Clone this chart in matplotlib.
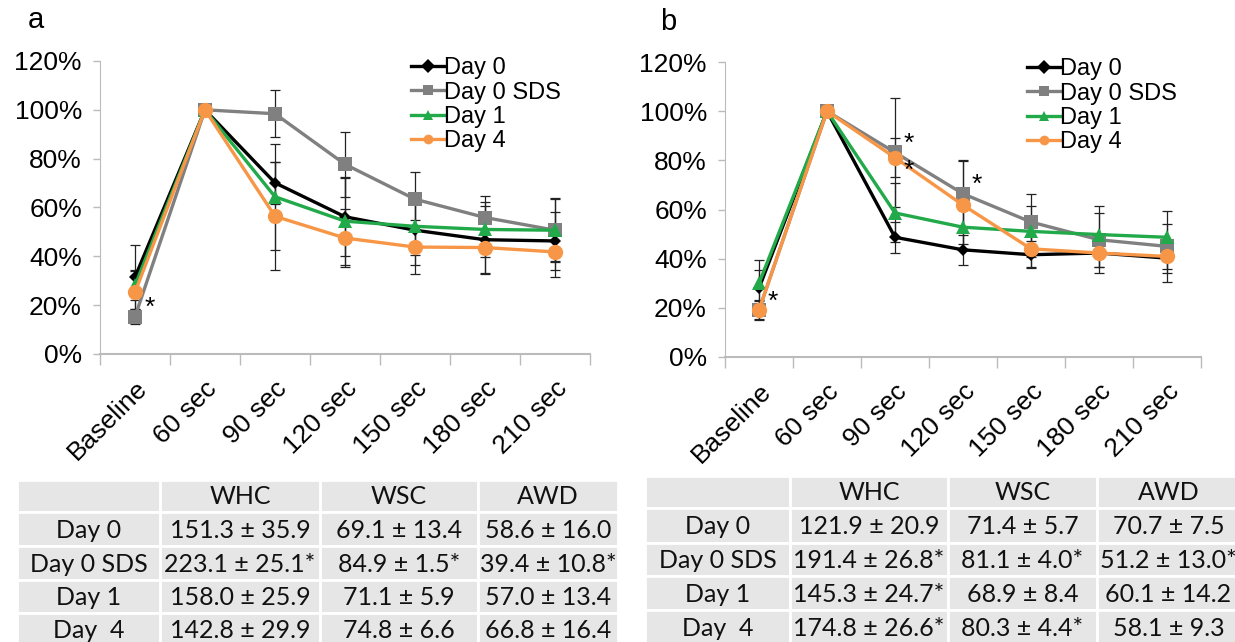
import numpy as np
import matplotlib.pyplot as plt
from matplotlib.patches import Rectangle

# time points of the measurement
times = ['Baseline', '60 sec', '90 sec', '120 sec', '150 sec', '180 sec', '210 sec']
groups = ['Day 0', 'Day 0 SDS', 'Day 1', 'Day 4']

# panel a: relative values (%) and standard deviations
a_day0 = [31.5, 100, 70.1, 56.2, 50.7, 46.8, 46.3]
a_sds = [15.3, 100, 98.4, 77.7, 63.4, 55.9, 50.7]
a_day1 = [28.1, 100, 64.4, 54.4, 52.3, 51.0, 50.7]
a_day4 = [25.3, 100, 56.4, 47.5, 43.8, 43.6, 41.8]
a_day0_sd = [13.0, 0, 8.7, 16.0, 14.4, 14.0, 12.0]
a_sds_sd = [3.0, 0, 9.6, 13.4, 11.3, 8.8, 12.7]
a_day1_sd = [6.0, 0, 21.7, 18.0, 11.9, 11.3, 13.0]
a_day4_sd = [9.0, 0, 22.2, 11.9, 10.9, 10.5, 10.3]

# panel b
b_day0 = [28.0, 100, 48.7, 43.6, 41.6, 42.3, 40.2]
b_sds = [19.1, 100, 83.2, 66.4, 54.9, 47.7, 45.0]
b_day1 = [30.0, 100, 58.6, 52.8, 51.1, 49.8, 48.7]
b_day4 = [19.1, 100, 81.1, 61.8, 44.0, 42.3, 40.9]
b_day0_sd = [7.5, 0, 6.4, 6.0, 5.5, 5.8, 6.2]
b_sds_sd = [3.5, 0, 22.0, 13.6, 11.6, 13.7, 14.3]
b_day1_sd = [9.5, 0, 12.0, 7.0, 10.3, 8.7, 5.4]
b_day4_sd = [4.0, 0, 8.0, 18.0, 7.5, 5.5, 5.0]

# significance marks: (point index, group index)
a_stars = [(0, 1)]
b_stars = [(0, 1), (2, 1), (2, 3), (3, 1)]

# summary tables
tab_cols = ['WHC', 'WSC', 'AWD']
tab_rows = ['Day 0', 'Day 0 SDS', 'Day 1', 'Day  4']
a_table = [['151.3 ± 35.9', '69.1 ± 13.4', '58.6 ± 16.0'],
           ['223.1 ± 25.1*', '84.9 ± 1.5*', '39.4 ± 10.8*'],
           ['158.0 ± 25.9', '71.1 ± 5.9', '57.0 ± 13.4'],
           ['142.8 ± 29.9', '74.8 ± 6.6', '66.8 ± 16.4']]
b_table = [['121.9 ± 20.9', '71.4 ± 5.7', '70.7 ± 7.5'],
           ['191.4 ± 26.8*', '81.1 ± 4.0*', '51.2 ± 13.0*'],
           ['145.3 ± 24.7*', '68.9 ± 8.4', '60.1 ± 14.2'],
           ['174.8 ± 26.6*', '80.3 ± 4.4*', '58.1 ± 9.3']]

colors = ['#000000', '#808080', '#21a94a', '#f79646']
markers = ['D', 's', '^', 'o']
msizes = [6, 10, 10, 11]
star_dy = [0, 3.5, 0, -5.5]   # nudges the asterisks of overlapping groups apart

plt.rcParams['font.family'] = ['Liberation Sans', 'DejaVu Sans']

fig = plt.figure(figsize=(12.35, 6.42), dpi=100)
W, H = 1235, 642


def draw_panel(rect, series, errs, stars, letter, letter_xy, leg_x):
    ax = fig.add_axes(rect)
    x = np.arange(len(times))
    for k in range(len(groups)):
        ax.errorbar(x, series[k], yerr=errs[k], fmt='none', ecolor='#222222',
                    elinewidth=0.9, capsize=3.5, capthick=0.9, zorder=2)
    handles = []
    for k in range(len(groups)):
        h, = ax.plot(x, series[k], color=colors[k], lw=2.4, marker=markers[k],
                     ms=msizes[k], markeredgewidth=0, label=groups[k], zorder=3 + k)
        handles.append(h)
    for i, k in stars:
        ax.text(i + 0.13, series[k][i] + star_dy[k], '*', fontsize=19,
                ha='left', va='center', zorder=10)
    ax.set_xlim(-0.5, len(times) - 0.5)
    ax.set_ylim(0, 120)
    ax.set_yticks(np.arange(0, 121, 20))
    ax.set_yticklabels([f'{v}%' for v in range(0, 121, 20)], fontsize=19)
    ax.set_xticks(x)
    ax.set_xticklabels(times, rotation=45, ha='right', rotation_mode='anchor', fontsize=19)
    ax.tick_params(axis='x', length=0, pad=16)
    ax.set_xticks(np.arange(-0.5, len(times)), minor=True)
    ax.tick_params(axis='x', which='minor', length=8, color='#bbbbbb', width=1)
    ax.tick_params(axis='y', length=5, color='#bbbbbb', width=1, pad=8)
    for s in ['top', 'right']:
        ax.spines[s].set_visible(False)
    ax.spines['left'].set_color('#bbbbbb')
    ax.spines['bottom'].set_color('#bbbbbb')
    ax.spines['bottom'].set_linewidth(1.5)
    leg = ax.legend(handles=handles, loc='upper right', bbox_to_anchor=(leg_x, 1.045),
                    frameon=False, fontsize=17, handlelength=1.4, handletextpad=0.0,
                    labelspacing=0.1, borderaxespad=0)
    for lh in leg.legend_handles:
        lh.set_markersize(7)
    fig.text(letter_xy[0] / W, 1 - letter_xy[1] / H, letter, fontsize=21,
             ha='left', va='center')
    return ax


draw_panel([100 / W, 1 - 354 / H, 490 / W, 293 / H],
           [a_day0, a_sds, a_day1, a_day4],
           [a_day0_sd, a_sds_sd, a_day1_sd, a_day4_sd], a_stars, 'a', (28, 20), 0.96)
draw_panel([725 / W, 1 - 357 / H, 476 / W, 295 / H],
           [b_day0, b_sds, b_day1, b_day4],
           [b_day0_sd, b_sds_sd, b_day1_sd, b_day4_sd], b_stars, 'b', (660, 22), 0.97)

# tables drawn in pixel coordinates over the whole figure
tax = fig.add_axes([0, 0, 1, 1])
tax.set_xlim(0, W)
tax.set_ylim(H, 0)
tax.axis('off')


def draw_table(col_edges, row_edges, data):
    labels = [[''] + tab_cols] + [[tab_rows[r]] + data[r] for r in range(len(tab_rows))]
    for r in range(len(row_edges) - 1):
        for c in range(len(col_edges) - 1):
            x0, x1 = col_edges[c], col_edges[c + 1]
            y0, y1 = row_edges[r], row_edges[r + 1]
            tax.add_patch(Rectangle((x0, y0), x1 - x0, y1 - y0, facecolor='#e6e6e6',
                                    edgecolor='white', lw=2))
            tax.text((x0 + x1) / 2, (y0 + y1) / 2 + 1, labels[r][c], ha='center',
                     va='center', fontsize=18, color='#111111',
                     family=['Lato', 'DejaVu Sans'])


draw_table([17, 160, 320, 478, 618], [480, 512, 546, 580, 613, 647], a_table)
draw_table([645, 790, 948, 1097, 1240], [476, 508, 543, 576, 610, 644], b_table)

fig.savefig('out.png', dpi=100)
